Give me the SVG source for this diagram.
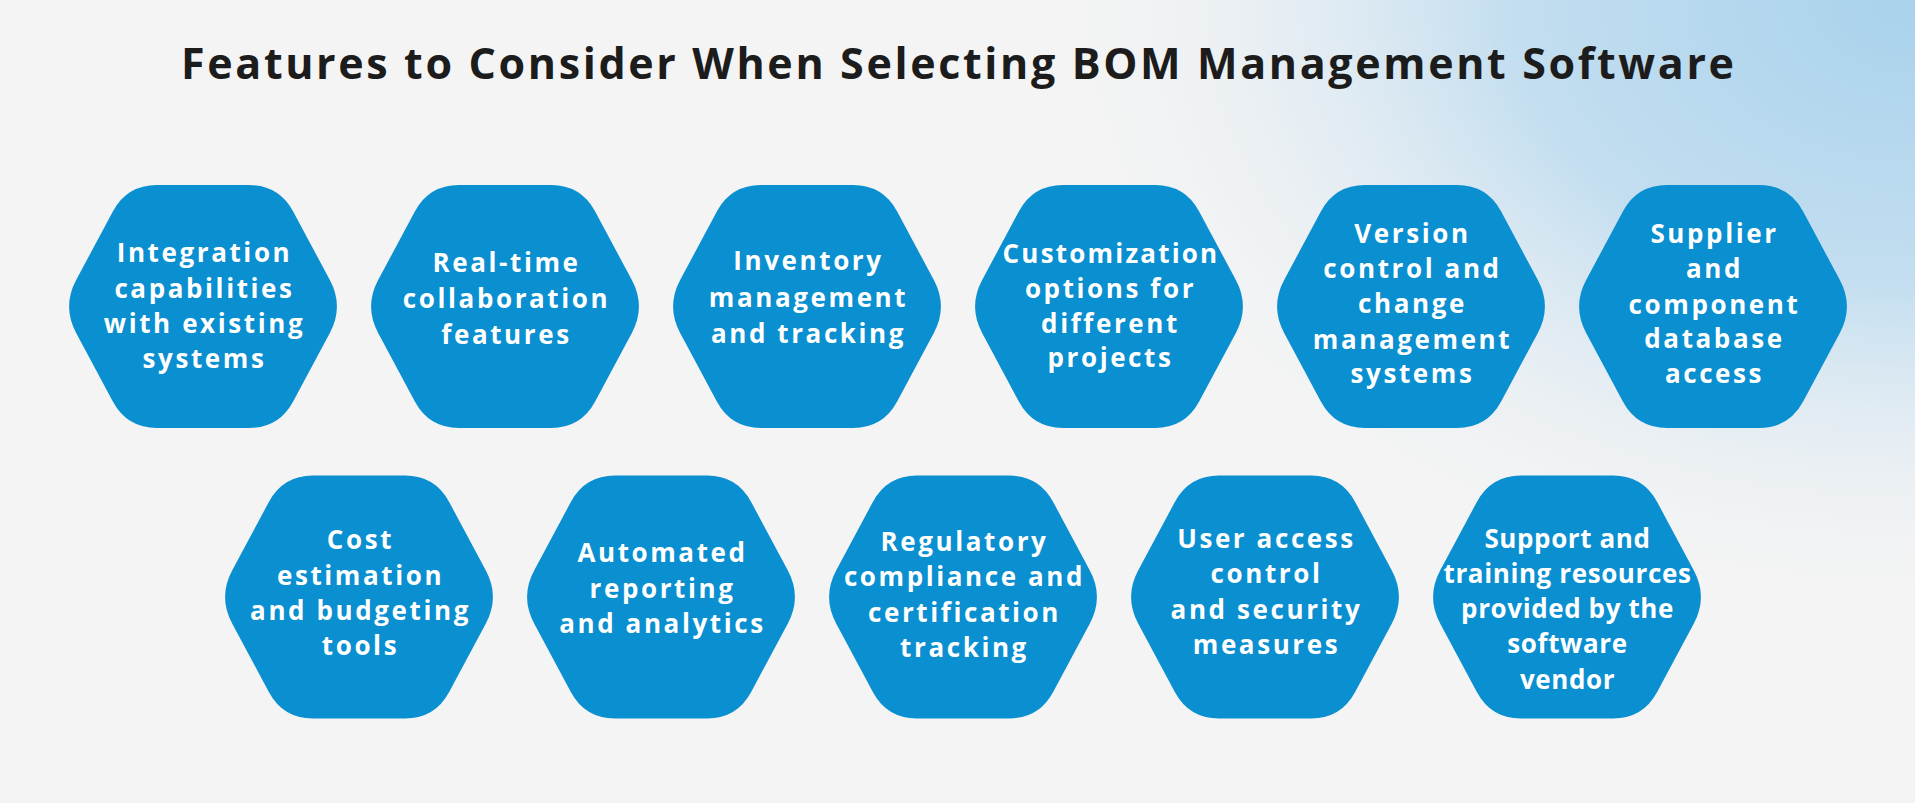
<svg xmlns="http://www.w3.org/2000/svg" xmlns:xlink="http://www.w3.org/1999/xlink" width="1915" height="803" viewBox="0 0 1915 803">
  <defs>
    <radialGradient id="glow" cx="1915" cy="0" r="900" gradientUnits="userSpaceOnUse" gradientTransform="translate(1915 0) scale(1 0.7) translate(-1915 0)">
      <stop offset="0" stop-color="#a9d2ec"/>
      <stop offset="0.45" stop-color="#c3def0"/>
      <stop offset="1" stop-color="#f4f4f4" stop-opacity="0"/>
    </radialGradient>
    <path id="hex" d="M-126.85,-26.45 L-90.15,-95.05 Q-76,-121.5 -46,-121.5 L46,-121.5 Q76,-121.5 90.15,-95.05 L126.85,-26.45 Q141,0 126.85,26.45 L90.15,95.05 Q76,121.5 46,121.5 L-46,121.5 Q-76,121.5 -90.15,95.05 L-126.85,26.45 Q-141,0 -126.85,-26.45 Z"/>
    <style>
      .hex { fill: #0a8fd0; }
      .lbl { font-family: "Open Sans", "Liberation Sans", sans-serif; font-weight: 700; font-size: 26px; fill: #ffffff; text-anchor: middle; letter-spacing: 2.6px; }
      .tight { letter-spacing: 0.6px; }
      .title { font-family: "Open Sans", "Liberation Sans", sans-serif; font-weight: 700; font-size: 43px; fill: #1c1c1c; }
    </style>
  </defs>

  <rect x="0" y="0" width="1915" height="803" fill="#f4f4f4"/>
  <rect x="0" y="0" width="1915" height="803" fill="url(#glow)"/>

  <text class="title" x="181" y="79" textLength="1553" lengthAdjust="spacing">Features to Consider When Selecting BOM Management Software</text>

  <g id="connectors"/>

  <g id="n1">
    <use xlink:href="#hex" class="hex" x="203" y="306.5"/>
    <text class="lbl"><tspan x="204.5" y="262">Integration</tspan><tspan x="204.5" y="298">capabilities</tspan><tspan x="204.5" y="333">with existing</tspan><tspan x="204.5" y="368">systems</tspan></text>
  </g>
  <g id="n2">
    <use xlink:href="#hex" class="hex" x="505" y="306.5"/>
    <text class="lbl"><tspan x="506.5" y="272">Real-time</tspan><tspan x="506.5" y="308">collaboration</tspan><tspan x="506.5" y="344">features</tspan></text>
  </g>
  <g id="n3">
    <use xlink:href="#hex" class="hex" x="807" y="306.5"/>
    <text class="lbl"><tspan x="808.5" y="270">Inventory</tspan><tspan x="808.5" y="307">management</tspan><tspan x="808.5" y="343">and tracking</tspan></text>
  </g>
  <g id="n4">
    <use xlink:href="#hex" class="hex" x="1109" y="306.5"/>
    <text class="lbl"><tspan x="1111" y="263" style="letter-spacing:2.2px">Customization</tspan><tspan x="1110.5" y="298">options for</tspan><tspan x="1110.5" y="333">different</tspan><tspan x="1110.5" y="367">projects</tspan></text>
  </g>
  <g id="n5">
    <use xlink:href="#hex" class="hex" x="1411" y="306.5"/>
    <text class="lbl"><tspan x="1412.5" y="243">Version</tspan><tspan x="1412.5" y="278">control and</tspan><tspan x="1412.5" y="313">change</tspan><tspan x="1412.5" y="349">management</tspan><tspan x="1412.5" y="383">systems</tspan></text>
  </g>
  <g id="n6">
    <use xlink:href="#hex" class="hex" x="1713" y="306.5"/>
    <text class="lbl"><tspan x="1714.5" y="243">Supplier</tspan><tspan x="1714.5" y="278">and</tspan><tspan x="1714.5" y="314">component</tspan><tspan x="1714.5" y="348">database</tspan><tspan x="1714.5" y="383">access</tspan></text>
  </g>

  <g id="n7">
    <use xlink:href="#hex" class="hex" x="359" y="597"/>
    <text class="lbl"><tspan x="360.5" y="549">Cost</tspan><tspan x="360.5" y="585">estimation</tspan><tspan x="360.5" y="620">and budgeting</tspan><tspan x="360.5" y="655">tools</tspan></text>
  </g>
  <g id="n8">
    <use xlink:href="#hex" class="hex" x="661" y="597"/>
    <text class="lbl"><tspan x="662.5" y="562">Automated</tspan><tspan x="662.5" y="598">reporting</tspan><tspan x="662.5" y="633">and analytics</tspan></text>
  </g>
  <g id="n9">
    <use xlink:href="#hex" class="hex" x="963" y="597"/>
    <text class="lbl"><tspan x="964.5" y="551">Regulatory</tspan><tspan x="964.5" y="586">compliance and</tspan><tspan x="964.5" y="622">certification</tspan><tspan x="964.5" y="657">tracking</tspan></text>
  </g>
  <g id="n10">
    <use xlink:href="#hex" class="hex" x="1265" y="597"/>
    <text class="lbl"><tspan x="1266.5" y="548">User access</tspan><tspan x="1266.5" y="583">control</tspan><tspan x="1266.5" y="619">and security</tspan><tspan x="1266.5" y="654">measures</tspan></text>
  </g>
  <g id="n11">
    <use xlink:href="#hex" class="hex" x="1567" y="597"/>
    <text class="lbl tight"><tspan x="1567.5" y="548">Support and</tspan><tspan x="1567.5" y="583">training resources</tspan><tspan x="1567.5" y="618">provided by the</tspan><tspan x="1567.5" y="653">software</tspan><tspan x="1567.5" y="689">vendor</tspan></text>
  </g>
</svg>
